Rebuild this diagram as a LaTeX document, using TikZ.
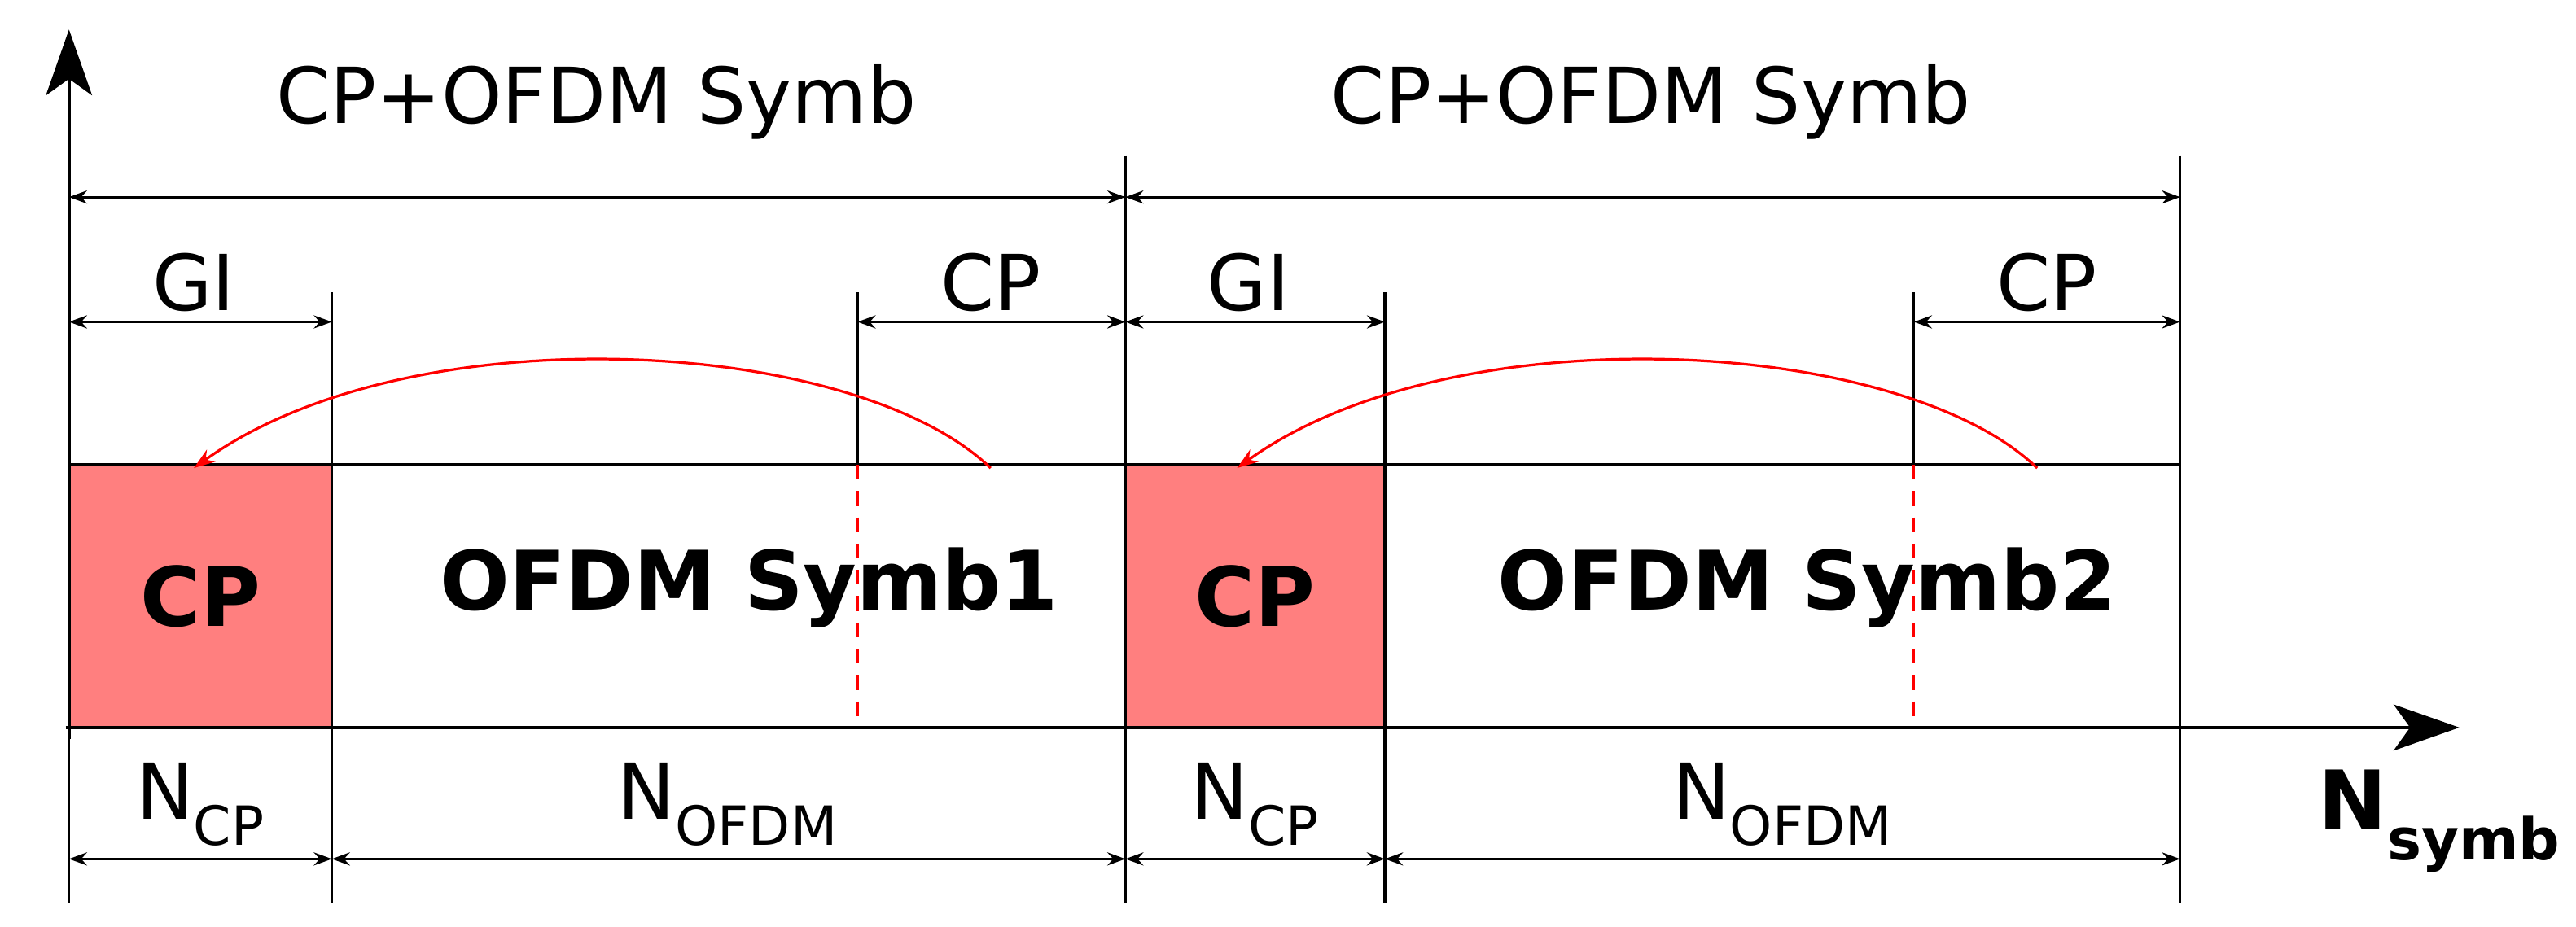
\documentclass[tikz,border=0pt]{standalone}
\usepackage{fontspec}
\setmainfont{DejaVu Sans}
\usetikzlibrary{arrows.meta}
\definecolor{cpred}{HTML}{FF7F7F}
\tikzset{
 ln/.style={line width=1.6pt},
 dim/.style={line width=1.4pt,{Stealth[length=11pt,width=8pt]}-{Stealth[length=11pt,width=8pt]}},
 axis/.style={line width=2.2pt,-{Stealth[length=40pt,width=28pt,inset=10pt]}},
 lbl/.style={font=\fontsize{47}{54}\selectfont,inner sep=0pt},
 blbl/.style={font=\bfseries\fontsize{50}{58}\selectfont,inner sep=0pt},
 rdash/.style={red,line width=1.6pt,dash pattern=on 9pt off 7pt},
}
\begin{document}
\begin{tikzpicture}[x=1pt,y=-1pt]
\useasboundingbox (0,0) rectangle (1568,564.4);
% fills
\fill[cpred] (42,283) rectangle (202,443);
\fill[cpred] (685,283) rectangle (843,443);
\draw[ln] (42,283) -- (1327,283);
% verticals
\foreach \x in {202,685,843,1327} \draw[ln] (\x,283) -- (\x,550);
\draw[ln] (202,178) -- (202,283);
\draw[ln] (843,178) -- (843,283);
\draw[ln] (685,95) -- (685,283);
\draw[ln] (1327,95) -- (1327,283);
\draw[ln] (522,178) -- (522,283);
\draw[ln] (1165,178) -- (1165,283);
\draw[ln] (42,443) -- (42,550);
\draw[rdash] (522,283) -- (522,443);
\draw[rdash] (1165,283) -- (1165,443);
% axes
\draw[axis] (42,450) -- (42,18) coordinate (ytip);
\draw[axis] (40,443) -- (1497,443) coordinate (xtip);
% dims
\draw[dim] (42,120) -- (685,120);
\draw[dim] (685,120) -- (1327,120);
\draw[dim] (42,196) -- (202,196);
\draw[dim] (522,196) -- (685,196);
\draw[dim] (685,196) -- (843,196);
\draw[dim] (1165,196) -- (1327,196);
\foreach \a/\b in {42/202,202/685,685/843,843/1327} \draw[dim] (\a,523) -- (\b,523);
% labels
\node[lbl] (t1) at (363,62) {CP+OFDM Symb};
\node[lbl] (t2) at (1005,62) {CP+OFDM Symb};
\node[lbl] (g1) at (118,172) {GI};
\node[lbl] (c1) at (603,172) {CP};
\node[lbl] (g2) at (760,172) {GI};
\node[lbl] (c2) at (1246,172) {CP};
\node[blbl] (cp1) at (122,363) {CP};
\node[blbl] (cp2) at (764,363) {CP};
\node[blbl] (s1) at (456,358) {OFDM Symb1};
\node[blbl] (s2) at (1100,358) {OFDM Symb2};
\node[lbl] (n1) at (122,490) {N\textsubscript{CP}};
\node[lbl] (n2) at (443,490) {N\textsubscript{OFDM}};
\node[lbl] (n3) at (764,490) {N\textsubscript{CP}};
\node[lbl] (n4) at (1085,490) {N\textsubscript{OFDM}};
\node[blbl] (ns) at (1485,500) {N\textsubscript{symb}};
% red arcs
\coordinate (a1) at (603,285); \coordinate (b1) at (118,285);
\coordinate (a2) at (1240,285); \coordinate (b2) at (753,285);
\draw[red,line width=1.6pt,-{Stealth[length=13pt,width=9pt]}] (a1) .. controls (520,205) and (250,190) .. (b1);
\draw[red,line width=1.6pt,-{Stealth[length=13pt,width=9pt]}] (a2) .. controls (1157,205) and (885,190) .. (b2);
\end{tikzpicture}
\end{document}
